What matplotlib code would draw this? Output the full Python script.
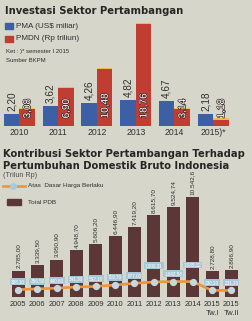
import numpy as np
import matplotlib
matplotlib.use("Agg")
import matplotlib.pyplot as plt
import matplotlib.patheffects as pe

# data: investasi sektor pertambangan
tahun_inv = ['2010', '2011', '2012', '2013', '2014', '2015)*']
pma = [2.20, 3.62, 4.26, 4.82, 4.67, 2.18]
pmdn = [3.08, 6.90, 10.48, 18.76, 3.14, 1.18]
pma_lbl = ['2,20', '3,62', '4,26', '4,82', '4,67', '2,18']
pmdn_lbl = ['3,08', '6,90', '10,48', '18,76', '3,14', '1,18']

# data: kontribusi sektor pertambangan terhadap PDB
tahun_pdb = ['2005', '2006', '2007', '2008', '2009', '2010', '2011', '2012',
             '2013', '2014', '2015\nTw.I', '2015\nTw.II']
pdb = [2785.00, 3339.50, 3950.90, 4948.70, 5606.20, 6446.90, 7419.20, 8615.70,
       9524.74, 10542.60, 2728.80, 2866.90]
pdb_lbl = ['2.785,00', '3.339,50', '3.950,90', '4.948,70', '5.606,20', '6.446,90',
           '7.419,20', '8.615,70', '9.524,74', '10.542,6', '2.728,80', '2.866,90']
tambang = [308.10, 366.50, 440.60, 541.30, 592.10, 719.70, 877.00, 1000.31,
           1042.58, 1035.12, 230.20, 231.20]
tambang_lbl = ['308,10', '366,50', '440,60', '541,30', '592,10', '719,70', '877,00',
               '1.000,31', '1.042,58', '1.035,12', '230,20', '231,20']

bg = '#d6d6ca'
biru = '#3d5fa6'
merah = '#c23d31'
kuning = '#e6c04a'
coklat = '#5b3837'
oranye = '#e9963c'
teks = '#303030'
gelap = '#262626'

plt.rcParams['font.family'] = ['Liberation Sans', 'DejaVu Sans']

fig = plt.figure(figsize=(2.52, 3.21), dpi=100, facecolor=bg)

def fy(px):
    return 1 - px / 321

def fx(px):
    return px / 252

# ---------- grafik atas ----------
ax1 = fig.add_axes([0, fy(126), 1, 106 / 321])
ax1.set_facecolor('none')
x = np.arange(len(tahun_inv))
w = 0.4
ax1.bar(x - w / 2, pma, w, color=biru)
ax1.bar(x + w / 2, pmdn, w, color=merah)
ax1.bar(x + w / 2, 0.22, w, bottom=pmdn, color=kuning)
for i in range(len(x)):
    ax1.annotate(pma_lbl[i], (x[i] - w / 2, pma[i]), xytext=(0, 2),
                 textcoords='offset points', rotation=90, ha='center', va='bottom',
                 fontsize=7.2, color=teks)
    ax1.text(x[i] + w / 2, 1.4, pmdn_lbl[i], rotation=90, ha='center', va='bottom',
             fontsize=7.2, color='white',
             path_effects=[pe.withStroke(linewidth=1.0, foreground='#3a2a2a')])
ax1.set_xlim(-0.5, 6.0)
ax1.set_ylim(0, 106 / 5.45)
ax1.set_xticks(x, tahun_inv, fontsize=6.2, color=teks)
ax1.tick_params(length=0, pad=1.5)
ax1.set_yticks([])
for s in ax1.spines.values():
    s.set_visible(False)

fig.text(fx(5), fy(11), 'Investasi Sektor Pertambangan', fontsize=7.2,
         fontweight='bold', color=gelap, va='center', family=['DejaVu Sans'])
fig.patches.append(plt.Rectangle((fx(5), fy(29)), fx(8), 6.5 / 321, color=biru,
                                 transform=fig.transFigure))
fig.patches.append(plt.Rectangle((fx(5), fy(42)), fx(8), 6.5 / 321, color=merah,
                                 transform=fig.transFigure))
fig.text(fx(16), fy(26), 'PMA (US$ miliar)', fontsize=5.9, color=teks, va='center')
fig.text(fx(16), fy(39), 'PMDN (Rp triliun)', fontsize=5.9, color=teks, va='center')
fig.text(fx(6), fy(52), 'Ket : )* semester I 2015', fontsize=4.3, color=teks, va='center')
fig.text(fx(6), fy(61), 'Sumber BKPM', fontsize=4.3, color=teks, va='center')

# ---------- grafik bawah ----------
fig.text(fx(3), fy(154), 'Kontribusi Sektor Pertambangan Terhadap', fontsize=7.2,
         fontweight='bold', color=gelap, va='center', family=['DejaVu Sans'])
fig.text(fx(3), fy(166), 'Pertumbuhan Domestik Bruto Indonesia', fontsize=7.2,
         fontweight='bold', color=gelap, va='center', family=['DejaVu Sans'])
fig.text(fx(3), fy(175.5), '(Trilun Rp)', fontsize=5.2, color='#505050', va='center')

ax2 = fig.add_axes([0, fy(297), 1, 112 / 321])
ax2.set_facecolor('none')
x2 = np.arange(len(tahun_pdb))
ax2.bar(x2, pdb, 0.67, color=coklat)
for i in range(len(x2)):
    ax2.annotate(pdb_lbl[i], (x2[i], pdb[i]), xytext=(0, 1.5),
                 textcoords='offset points', rotation=90, ha='center', va='bottom',
                 fontsize=4.6, color=teks, annotation_clip=False)
ax2.set_xlim(-0.928, 12.06)
ax2.set_ylim(0, 112 / 0.009486)
ax2.set_xticks(x2, tahun_pdb, fontsize=5.4, color=teks, linespacing=1.35)
ax2.tick_params(length=0, pad=3)
ax2.set_yticks([])
for s in ax2.spines.values():
    s.set_visible(False)

ax3 = ax2.twinx()
ax3.plot(x2, tambang, color=oranye, lw=1.9, marker='o', ms=4.2,
         mfc='#c6d7dd', mec='#c6d7dd', solid_capstyle='butt')
ax3.set_ylim(-369, 9832)
ax3.axis('off')
for i in range(len(x2)):
    off = 12 if i in (7, 9) else 5.6
    ax3.annotate(tambang_lbl[i], (x2[i], tambang[i]), xytext=(0, off),
                 textcoords='offset points', ha='center', va='center',
                 fontsize=3.3, color='white',
                 bbox=dict(boxstyle='square,pad=0.2', fc='#a9c6d6', ec='none'))

# legenda bawah
fig.lines.append(plt.Line2D([fx(3), fx(25)], [fy(186), fy(186)], color=oranye, lw=1.9,
                            transform=fig.transFigure))
fig.lines.append(plt.Line2D([fx(13)], [fy(186)], marker='o', ms=4, mfc='#a9cadb',
                            mec='#a9cadb', transform=fig.transFigure))
fig.text(fx(28), fy(186), 'Atas  Dasar Harga Berlaku', fontsize=4.6, color=teks, va='center')
fig.patches.append(plt.Rectangle((fx(7), fy(205)), fx(14), 6.5 / 321, color=coklat,
                                 transform=fig.transFigure))
fig.text(fx(28), fy(202), 'Total PDB', fontsize=4.6, color=teks, va='center')

fig.savefig('out.png', dpi=100, facecolor=bg)
